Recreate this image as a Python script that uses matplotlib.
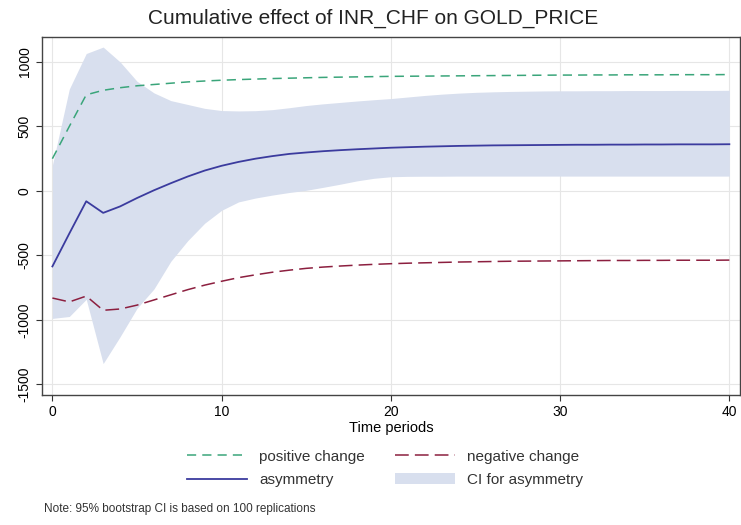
import matplotlib.pyplot as plt
import numpy as np

plt.rcParams['font.family'] = ['Liberation Sans', 'DejaVu Sans']

# horizons 0..40
t = np.arange(0, 41)

pos_change = [250, 500, 745, 780, 800, 815, 825, 835, 845, 852,
              858, 863, 867, 871, 874, 877, 880, 882, 884, 886,
              888, 889, 890, 891, 892, 893, 894, 895, 896, 897,
              898, 898, 899, 899, 900, 900, 900, 901, 901, 901, 902]
neg_change = [-830, -860, -815, -925, -915, -885, -845, -805, -765, -730,
              -700, -672, -650, -630, -614, -600, -590, -582, -575, -569,
              -564, -560, -557, -554, -551, -549, -547, -545, -544, -543,
              -542, -541, -540, -539, -539, -538, -538, -537, -537, -537, -536]
asym = [-585, -330, -80, -170, -120, -55, 5, 60, 112, 158,
        195, 225, 250, 270, 287, 298, 308, 316, 323, 329,
        335, 339, 343, 346, 349, 351, 353, 354, 355, 356,
        357, 358, 358, 359, 359, 360, 360, 361, 361, 361, 362]
ci_upper = [200, 790, 1065, 1115, 1000, 850, 760, 700, 670, 640,
            623, 620, 622, 630, 645, 662, 675, 686, 697, 707,
            716, 728, 740, 750, 758, 764, 768, 771, 773, 775,
            776, 776, 777, 777, 778, 778, 778, 779, 779, 779, 780]
ci_lower = [-988, -973, -840, -1338, -1130, -910, -760, -545, -385, -250,
            -150, -85, -55, -32, -12, 5, 28, 52, 78, 98,
            110, 113, 114, 114, 115, 115, 115, 115, 115, 115,
            115, 115, 115, 115, 115, 115, 115, 115, 115, 115, 115]

fig = plt.figure(figsize=(7.41, 5.25), dpi=100)
ax = fig.add_axes([0.057, 0.248, 0.941, 0.682])

ax.fill_between(t, ci_lower, ci_upper, color='#d8dfee', linewidth=0,
                label='CI for asymmetry', zorder=1)
ax.plot(t, pos_change, color='#3aa57a', linestyle=(0, (6, 4)), lw=1.1,
        label='positive change', zorder=3)
ax.plot(t, neg_change, color='#8c1f3f', linestyle=(0, (9, 4)), lw=1.1,
        label='negative change', zorder=3)
ax.plot(t, asym, color='#3b3b9e', lw=1.3, label='asymmetry', zorder=3)

ax.set_xlim(-0.6, 40.6)
ax.set_ylim(-1580, 1195)
ax.set_xticks([0, 10, 20, 30, 40])
ax.set_yticks([-1500, -1000, -500, 0, 500, 1000])
ax.set_yticklabels(['-1500', '-1000', '-500', '0', '500', '1000'],
                   rotation=90, va='center')
ax.tick_params(labelsize=10, color='#333333', length=4)
ax.grid(color='#e6e6e6', lw=0.8, zorder=0)
ax.set_axisbelow(True)
for s in ax.spines.values():
    s.set_color('#444444')
    s.set_linewidth(1.0)

ax.set_xlabel('Time periods', fontsize=10.5, labelpad=1)
fig.text(0.503, 0.965, 'Cumulative effect of INR_CHF on GOLD_PRICE',
         fontsize=15, ha='center', va='center', color='#222222')

h, l = ax.get_legend_handles_labels()
order = [1, 3, 2, 0]
fig.legend([h[i] for i in order], [l[i] for i in order],
           loc='center', bbox_to_anchor=(0.52, 0.108), ncol=2, frameon=False,
           fontsize=11, handlelength=3.9, handletextpad=0.8, columnspacing=2.0,
           labelspacing=0.6, labelcolor='#333333')

fig.text(0.06, 0.025, 'Note: 95% bootstrap CI is based on 100 replications',
         fontsize=8.5, color='#333333')

fig.savefig('out.png', dpi=100)
